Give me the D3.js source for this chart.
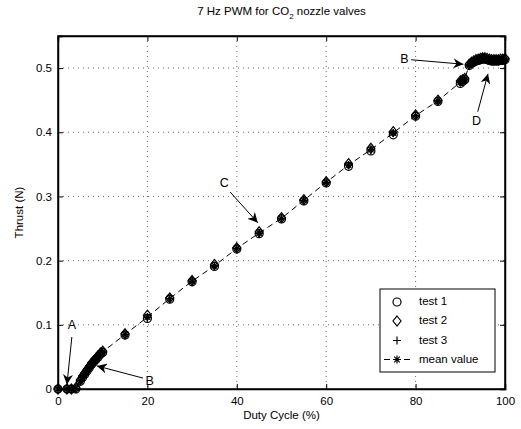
<!DOCTYPE html>
<html><head><meta charset="utf-8">
<script src="https://cdn.jsdelivr.net/npm/d3@7"></script>
<style>
body{margin:0;background:#fff;}
text{font-family:"Liberation Sans",Arial,sans-serif;fill:#000;}
</style></head>
<body><svg id="chart" width="521" height="429"></svg>
<script>
const duty  = [0,2,3,4,5,5.5,6,6.5,7,7.5,8,8.5,9,9.5,10,15,20,25,30,35,40,45,50,55,60,65,70,75,80,85,90,90.5,91,92,92.5,93,93.5,94,94.5,95,95.5,96,96.5,97,97.5,98,98.5,99,99.5,100];
const meanV = [0,0,0,0.001,0.013,0.019,0.024,0.029,0.034,0.039,0.043,0.047,0.051,0.055,0.058,0.085,0.112,0.141,0.168,0.192,0.219,0.243,0.266,0.294,0.322,0.349,0.373,0.399,0.426,0.449,0.478,0.480,0.483,0.505,0.508,0.510,0.512,0.513,0.514,0.515,0.515,0.514,0.513,0.512,0.512,0.512,0.512,0.513,0.513,0.514];
const test1 = [0,0,0,0.000,0.012,0.018,0.023,0.028,0.033,0.038,0.042,0.046,0.050,0.054,0.057,0.084,0.110,0.140,0.167,0.191,0.218,0.242,0.265,0.293,0.321,0.347,0.371,0.396,0.425,0.448,0.476,0.479,0.482,0.504,0.507,0.509,0.511,0.512,0.513,0.514,0.514,0.513,0.512,0.511,0.511,0.511,0.511,0.512,0.512,0.513];
const test2 = [0,0,0,0.002,0.014,0.020,0.025,0.030,0.035,0.040,0.044,0.048,0.052,0.056,0.059,0.086,0.115,0.142,0.169,0.194,0.220,0.245,0.267,0.295,0.323,0.351,0.375,0.401,0.427,0.450,0.480,0.482,0.484,0.506,0.509,0.511,0.513,0.514,0.515,0.516,0.516,0.515,0.514,0.513,0.513,0.513,0.513,0.514,0.514,0.515];
const test3 = [0,0,0,0.001,0.013,0.019,0.024,0.029,0.034,0.039,0.043,0.047,0.051,0.055,0.058,0.085,0.111,0.141,0.168,0.192,0.219,0.243,0.266,0.294,0.322,0.349,0.373,0.399,0.426,0.449,0.478,0.480,0.483,0.505,0.508,0.510,0.512,0.513,0.514,0.515,0.515,0.514,0.513,0.512,0.512,0.512,0.512,0.513,0.513,0.514];
const xTicks = [0,20,40,60,80,100];
const yTicks = [0,0.1,0.2,0.3,0.4,0.5];
const seriesNames = ["test 1","test 2","test 3","mean value"];
const annotations = [
  {label:"A", tx:3.1, ty:0.098, x1:3.1, y1:0.081, x2:2.0, y2:0.007},
  {label:"B", tx:20.5, ty:0.0115, x1:19.0, y1:0.017, x2:8.7, y2:0.036},
  {label:"C", tx:37.2, ty:0.32, x1:38.5, y1:0.307, x2:44.7, y2:0.259},
  {label:"B", tx:77.5, ty:0.513, x1:79.0, y1:0.513, x2:90.7, y2:0.506},
  {label:"D", tx:93.6, ty:0.416, x1:93.9, y1:0.432, x2:96.2, y2:0.491}
];

const svg = d3.select("#chart");
const L=58, R=505, T=36, B=389;
const x = d3.scaleLinear().domain([0,100]).range([L,R]);
const y = d3.scaleLinear().domain([0,0.55]).range([B,T]);

// grid
const g = svg.append("g");
g.selectAll(".gx").data(xTicks.slice(1,-1)).join("line")
  .attr("x1",d=>x(d)).attr("x2",d=>x(d)).attr("y1",T).attr("y2",B)
  .attr("stroke","#000").attr("stroke-width",0.6).attr("stroke-dasharray","1,4");
g.selectAll(".gy").data(yTicks.slice(1)).join("line")
  .attr("x1",L).attr("x2",R).attr("y1",d=>y(d)).attr("y2",d=>y(d))
  .attr("stroke","#000").attr("stroke-width",0.6).attr("stroke-dasharray","1,4");

// axes
const fmt = d=> d===0?"0":d3.format("")(d);
const xa = svg.append("g").attr("transform",`translate(0,${B})`)
  .call(d3.axisBottom(x).tickValues(xTicks).tickSize(-5).tickPadding(8).tickFormat(fmt));
const xt = svg.append("g").attr("transform",`translate(0,${T})`)
  .call(d3.axisTop(x).tickValues(xTicks).tickSize(-5).tickFormat(""));
const ya = svg.append("g").attr("transform",`translate(${L},0)`)
  .call(d3.axisLeft(y).tickValues(yTicks).tickSize(-5).tickPadding(6).tickFormat(d=>d===0?"0":d3.format(".1f")(d)));
const yr = svg.append("g").attr("transform",`translate(${R},0)`)
  .call(d3.axisRight(y).tickValues(yTicks).tickSize(-5).tickFormat(""));
[xa,xt,ya,yr].forEach(a=>{
  a.select(".domain").attr("stroke","#000").attr("stroke-width",1.5);
  a.selectAll(".tick line").attr("stroke","#000");
  a.selectAll("text").attr("font-size",11.5).attr("font-family","Liberation Sans, Arial, sans-serif").attr("fill","#000");
});
svg.append("rect").attr("x",L).attr("y",T).attr("width",R-L).attr("height",B-T)
  .attr("fill","none").attr("stroke","#000").attr("stroke-width",1.5);

// mean dashed line
const pts = duty.map((d,i)=>({d, m:meanV[i], t1:test1[i], t2:test2[i], t3:test3[i]}));
svg.append("path").datum(pts)
  .attr("d", d3.line().x(p=>x(p.d)).y(p=>y(p.m)))
  .attr("fill","none").attr("stroke","#000").attr("stroke-width",1).attr("stroke-dasharray","6,4");

const S = 4;
const SW = 1.2;
function circle(sel,cx,cy){ sel.append("circle").attr("cx",cx).attr("cy",cy).attr("r",S).attr("fill","none").attr("stroke","#000").attr("stroke-width",SW); }
function diamond(sel,cx,cy){ sel.append("path").attr("d",`M${cx},${cy-S-1}L${cx+S},${cy}L${cx},${cy+S+1}L${cx-S},${cy}Z`).attr("fill","none").attr("stroke","#000").attr("stroke-width",SW); }
function plus(sel,cx,cy){ sel.append("path").attr("d",`M${cx-S},${cy}H${cx+S}M${cx},${cy-S}V${cy+S}`).attr("stroke","#000").attr("stroke-width",SW); }
function star(sel,cx,cy){ const s=S; const a=s*0.7;
  sel.append("path").attr("d",`M${cx-s},${cy}H${cx+s}M${cx},${cy-s}V${cy+s}M${cx-a},${cy-a}L${cx+a},${cy+a}M${cx-a},${cy+a}L${cx+a},${cy-a}`).attr("stroke","#000").attr("stroke-width",SW); }

const mk = svg.append("g");
pts.forEach(p=>{
  circle(mk,x(p.d),y(p.t1));
  diamond(mk,x(p.d),y(p.t2));
  plus(mk,x(p.d),y(p.t3));
  star(mk,x(p.d),y(p.m));
});

// annotations
svg.append("defs").append("marker").attr("id","ah").attr("viewBox","0 0 10 10")
  .attr("refX",10).attr("refY",5).attr("markerWidth",10).attr("markerHeight",10)
  .attr("markerUnits","userSpaceOnUse").attr("orient","auto")
  .append("path").attr("d","M0,0L10,5L0,10L3,5Z").attr("fill","#000");
const an = svg.append("g");
annotations.forEach(a=>{
  an.append("line").attr("x1",x(a.x1)).attr("y1",y(a.y1)).attr("x2",x(a.x2)).attr("y2",y(a.y2))
    .attr("stroke","#000").attr("stroke-width",1).attr("marker-end","url(#ah)");
  an.append("text").attr("x",x(a.tx)).attr("y",y(a.ty)).attr("text-anchor","middle")
    .attr("dominant-baseline","middle").attr("font-size",12.5).text(a.label);
});

// title and labels
const title = svg.append("text").attr("x",(L+R)/2).attr("y",15).attr("text-anchor","middle").attr("font-size",11.5);
title.append("tspan").text("7 Hz PWM for CO");
title.append("tspan").attr("font-size",8).attr("dy",4).text("2");
title.append("tspan").attr("dy",-4).text(" nozzle valves");
svg.append("text").attr("x",(L+R)/2).attr("y",419).attr("text-anchor","middle").attr("font-size",11.5).text("Duty Cycle (%)");
svg.append("text").attr("transform",`translate(23,${(T+B)/2}) rotate(-90)`).attr("text-anchor","middle").attr("font-size",11.5).text("Thrust (N)");

// legend
const lg = svg.append("g");
lg.append("rect").attr("x",380).attr("y",289).attr("width",115).attr("height",83).attr("fill","#fff").attr("stroke","#000").attr("stroke-width",1);
const rowY = [302, 321, 340.5, 359.5];
const sx = 397;
circle(lg,sx,rowY[0]); diamond(lg,sx,rowY[1]); plus(lg,sx,rowY[2]);
lg.append("line").attr("x1",383).attr("x2",412).attr("y1",rowY[3]).attr("y2",rowY[3]).attr("stroke","#000").attr("stroke-dasharray","6,4").attr("stroke-dashoffset",-1);
lg.append("rect").attr("x",sx-5).attr("y",rowY[3]-5).attr("width",10).attr("height",10).attr("fill","#fff");
star(lg,sx,rowY[3]);
seriesNames.forEach((n,i)=>{
  lg.append("text").attr("x",419).attr("y",rowY[i]).attr("dominant-baseline","middle").attr("font-size",11.5).text(n);
});
</script></body></html>
